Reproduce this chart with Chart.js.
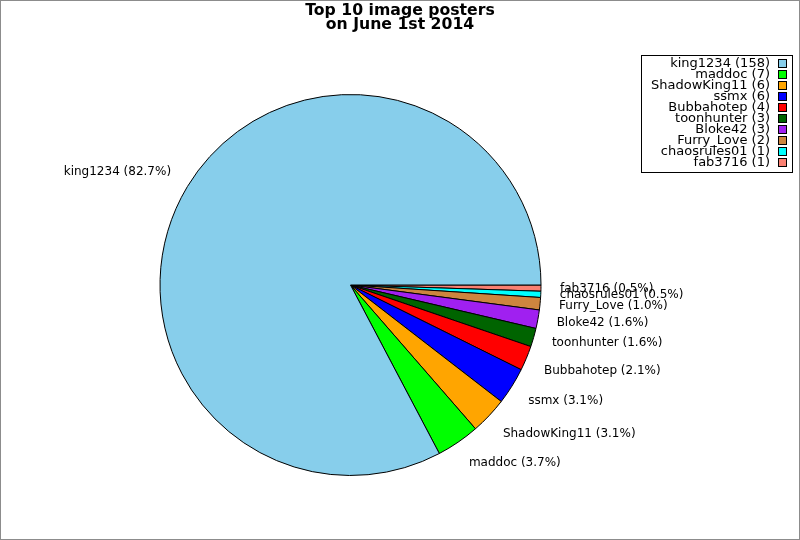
<!DOCTYPE html>
<html>
<head>
<meta charset="utf-8">
<title>Top 10 image posters</title>
<script src="https://cdn.jsdelivr.net/npm/chart.js@4.4.1/dist/chart.umd.min.js"></script>
<style>
  html, body { margin: 0; padding: 0; background: #fff; }
  #wrap { width: 800px; height: 540px; position: relative; }
</style>
</head>
<body>
<div id="wrap"><canvas id="pie" width="800" height="540"></canvas></div>
<script>
// data (legend order)
const posters = ['king1234', 'maddoc', 'ShadowKing11', 'ssmx', 'Bubbahotep',
                 'toonhunter', 'Bloke42', 'Furry_Love', 'chaosrules01', 'fab3716'];
const imageCounts = [158, 7, 6, 6, 4, 3, 3, 2, 1, 1];
const sliceColors = ['#87ceeb', '#00ff00', '#ffa500', '#0000ff', '#ff0000',
                     '#006400', '#a020f0', '#cd853f', '#00ffff', '#fa8072'];
const titleLines = ['Top 10 image posters', 'on June 1st 2014'];

const total = imageCounts.reduce((a, b) => a + b, 0);
const pct = v => (v / total * 100).toFixed(1) + '%';

// slices run counter-clockwise from 3 o'clock in the original,
// Chart.js goes clockwise, so feed it the lists backwards
const rev = a => a.slice().reverse();

const FONT = '"DejaVu Sans", Verdana, sans-serif';

const decorPlugin = {
    id: 'decor',
    afterDraw(chart) {
        const ctx = chart.ctx;
        ctx.save();

        // outer frame
        ctx.strokeStyle = '#8c8c8c';
        ctx.lineWidth = 1;
        ctx.strokeRect(0.5, 0.5, chart.width - 1, chart.height - 1);

        // title
        ctx.fillStyle = '#000';
        ctx.font = 'bold 15.7px ' + FONT;
        ctx.textAlign = 'center';
        ctx.textBaseline = 'alphabetic';
        ctx.fillText(titleLines[0], 400, 15);
        ctx.fillText(titleLines[1], 400, 28.5);

        // slice labels at 1.1 x radius
        const meta = chart.getDatasetMeta(0);
        ctx.font = '12px ' + FONT;
        ctx.textBaseline = 'middle';
        meta.data.forEach((arc, i) => {
            const p = arc.getProps(['x', 'y', 'startAngle', 'endAngle', 'outerRadius'], true);
            const mid = (p.startAngle + p.endAngle) / 2;
            const r = p.outerRadius * 1.1;
            const s = Math.sin(mid);
            const x = p.x + Math.cos(mid) * r;
            // labels well away from the horizontal sit a little further out
            const y = p.y + s * r + (Math.abs(s) > 0.35 ? Math.sign(s) * 5 : 0);
            const idx = posters.length - 1 - i;
            ctx.textAlign = Math.cos(mid) >= 0 ? 'left' : 'right';
            ctx.fillStyle = '#000';
            ctx.fillText(posters[idx] + ' (' + pct(imageCounts[idx]) + ')', x, y);
        });

        // legend box, top right
        ctx.strokeStyle = '#000';
        ctx.strokeRect(641.5, 55.5, 151, 117);
        ctx.font = '13px ' + FONT;
        ctx.textAlign = 'right';
        ctx.textBaseline = 'middle';
        posters.forEach((name, i) => {
            const y = 63.5 + i * 11;
            ctx.fillStyle = '#000';
            ctx.fillText(name + ' (' + imageCounts[i] + ')', 770, y);
            ctx.fillStyle = sliceColors[i];
            ctx.fillRect(778.5, Math.round(y) - 4.5, 8, 8);
            ctx.strokeRect(778.5, Math.round(y) - 4.5, 8, 8);
        });
        ctx.restore();
    }
};

new Chart(document.getElementById('pie'), {
    type: 'pie',
    data: {
        labels: rev(posters),
        datasets: [{
            data: rev(imageCounts),
            backgroundColor: rev(sliceColors),
            borderColor: '#000',
            borderWidth: 1,
            radius: 190.5
        }]
    },
    options: {
        responsive: false,
        animation: false,
        devicePixelRatio: 1,
        rotation: 90,
        layout: { padding: { left: 150, right: 249, top: 85, bottom: 55 } },
        plugins: {
            legend: { display: false },
            title: { display: false },
            tooltip: { enabled: false }
        }
    },
    plugins: [decorPlugin]
});
</script>
</body>
</html>
